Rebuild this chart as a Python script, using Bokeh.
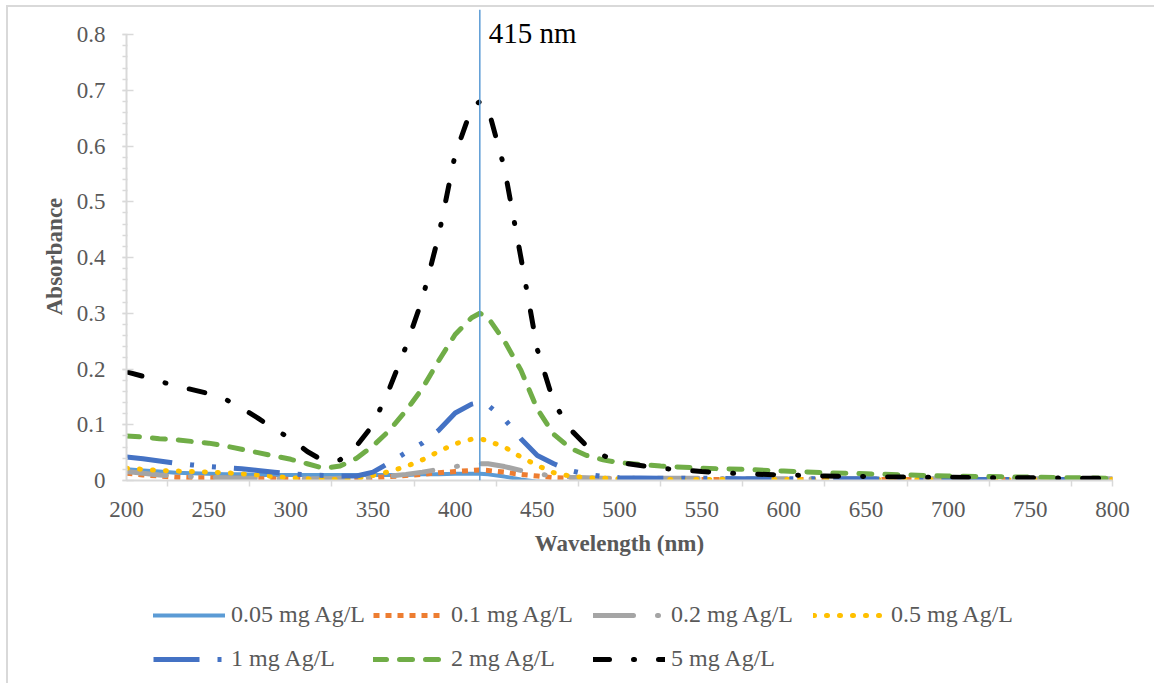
from bokeh.plotting import figure
from bokeh.layouts import column
from bokeh.models import FixedTicker, Span, Label, Legend, LegendItem, Range1d
from bokeh.embed import file_html
from bokeh.resources import INLINE

# ---------------- data ----------------
wavelength = [200, 210, 220, 230, 240, 250, 260, 270, 280, 290, 300, 310, 320, 330, 340,
              350, 360, 370, 380, 390, 400, 410, 415, 420, 430, 440, 450, 460, 470, 480,
              490, 500, 525, 550, 575, 600, 625, 650, 675, 700, 725, 750, 775, 800]

abs_005 = [0.020, 0.018, 0.016, 0.014, 0.013, 0.012, 0.011, 0.011, 0.010, 0.010, 0.010, 0.010,
           0.010, 0.010, 0.010, 0.010, 0.010, 0.010, 0.011, 0.011, 0.012, 0.012, 0.012, 0.011,
           0.007, 0.002, -0.002, -0.003, -0.003, -0.003, -0.003, -0.003, -0.003, -0.003, -0.003,
           -0.003, -0.003, -0.003, -0.003, -0.003, -0.003, -0.003, -0.003, -0.003]

abs_01 = [0.013, 0.010, 0.008, 0.006, 0.005, 0.005, 0.004, 0.004, 0.003, 0.003, 0.002, 0.002,
          0.002, 0.002, 0.003, 0.005, 0.007, 0.009, 0.011, 0.014, 0.016, 0.018, 0.019, 0.018,
          0.015, 0.011, 0.008, 0.005, 0.004, 0.003, 0.003, 0.002, 0.002, 0.002, 0.002, 0.002,
          0.002, 0.002, 0.002, 0.002, 0.002, 0.002, 0.002, 0.002]

abs_02 = [0.016, 0.013, 0.010, 0.008, 0.007, 0.006, 0.005, 0.004, 0.004, 0.003, 0.003, 0.003,
          0.003, 0.004, 0.005, 0.006, 0.008, 0.011, 0.015, 0.020, 0.025, 0.029, 0.030, 0.030,
          0.025, 0.018, 0.012, 0.008, 0.006, 0.005, 0.004, 0.004, 0.004, 0.004, 0.003, 0.003,
          0.003, 0.003, 0.003, 0.003, 0.003, 0.003, 0.003, 0.003]

abs_05 = [0.022, 0.020, 0.018, 0.017, 0.016, 0.015, 0.014, 0.012, 0.010, 0.007, 0.005, 0.003,
          0.002, 0.002, 0.004, 0.009, 0.016, 0.025, 0.037, 0.052, 0.066, 0.074, 0.075, 0.071,
          0.060, 0.042, 0.027, 0.014, 0.008, 0.005, 0.004, 0.003, 0.002, 0.002, 0.002, 0.002,
          0.002, 0.002, 0.002, 0.002, 0.002, 0.002, 0.002, 0.002]

abs_1 = [0.042, 0.039, 0.035, 0.031, 0.028, 0.025, 0.023, 0.021, 0.018, 0.015, 0.012, 0.010,
         0.009, 0.008, 0.008, 0.015, 0.032, 0.050, 0.067, 0.090, 0.121, 0.137, 0.140, 0.135,
         0.110, 0.075, 0.045, 0.030, 0.018, 0.011, 0.007, 0.005, 0.004, 0.004, 0.003, 0.003,
         0.003, 0.003, 0.002, 0.002, 0.002, 0.002, 0.002, 0.002]

abs_2 = [0.080, 0.078, 0.075, 0.073, 0.070, 0.067, 0.062, 0.056, 0.050, 0.044, 0.038, 0.030,
         0.022, 0.026, 0.040, 0.062, 0.090, 0.125, 0.165, 0.215, 0.262, 0.292, 0.300, 0.292,
         0.250, 0.198, 0.128, 0.083, 0.058, 0.045, 0.037, 0.032, 0.026, 0.022, 0.020, 0.017,
         0.014, 0.012, 0.010, 0.008, 0.007, 0.006, 0.005, 0.004]

abs_5 = [0.195, 0.187, 0.178, 0.170, 0.163, 0.156, 0.146, 0.130, 0.112, 0.092, 0.075, 0.052,
         0.035, 0.037, 0.062, 0.100, 0.165, 0.240, 0.325, 0.440, 0.585, 0.668, 0.680, 0.668,
         0.560, 0.400, 0.235, 0.140, 0.092, 0.062, 0.045, 0.032, 0.022, 0.016, 0.012, 0.010,
         0.008, 0.007, 0.006, 0.006, 0.005, 0.005, 0.004, 0.004]

series_labels = ["0.05 mg Ag/L", "0.1 mg Ag/L", "0.2 mg Ag/L", "0.5 mg Ag/L",
                 "1 mg Ag/L", "2 mg Ag/L", "5 mg Ag/L"]
series_values = [abs_005, abs_01, abs_02, abs_05, abs_1, abs_2, abs_5]

x_ticks = [200, 250, 300, 350, 400, 450, 500, 550, 600, 650, 700, 750, 800]
y_ticks = [0, 0.1, 0.2, 0.3, 0.4, 0.5, 0.6, 0.7, 0.8]
y_tick_labels = ["0", "0.1", "0.2", "0.3", "0.4", "0.5", "0.6", "0.7", "0.8"]

peak_wavelength = 415
peak_label = "415 nm"
peak_label_y = 0.803

# ---------------- styles ----------------
colors = ["#5b9bd5", "#ed7d31", "#a5a5a5", "#ffc000", "#4472c4", "#70ad47", "#000000"]
widths = [4, 5, 5, 5, 5, 5, 5]
dashes = ["solid", "6 6", "40 24 1 24", "1 12", "46 18 4 18 4 18", "13 13", "16 24 1 24"]
caps = ["round", "butt", "round", "round", "butt", "round", "round"]

SERIF = "Liberation Serif"
GRAY_TEXT = "#595959"
AXIS_GRAY = "#d9d9d9"
W = 1154
MAIN_H = 585
LEG_H = 683 - MAIN_H
FRAME_LEFT = 126


def draw_series(fig):
    rs = []
    for vals, c, w, d, cap in zip(series_values, colors, widths, dashes, caps):
        rs.append(fig.line(wavelength, vals, line_color=c, line_width=w, line_dash=d,
                           line_cap=cap, line_join="round"))
    return rs


# ---------------- main chart ----------------
p = figure(width=W, height=MAIN_H, output_backend="svg", toolbar_location=None,
           x_range=Range1d(200, 800), y_range=Range1d(0, 0.845),
           min_border_left=FRAME_LEFT, min_border_right=W - 1112, min_border_top=9,
           min_border_bottom=MAIN_H - 480)
p.styles = {"box-shadow": "inset 6px 5px 0 0 #ffffff, inset 8px 7px 0 0 #d9d9d9"}
p.outline_line_color = None
p.grid.visible = False
p.background_fill_color = "white"
p.border_fill_color = None

renderers = draw_series(p)

xa = p.xaxis[0]
xa.ticker = FixedTicker(ticks=x_ticks, minor_ticks=[225 + 50 * i for i in range(12)] + [800])
xa.axis_line_color = AXIS_GRAY
xa.axis_line_width = 2
xa.major_tick_in = 0
xa.major_tick_out = 0
xa.minor_tick_line_color = AXIS_GRAY
xa.minor_tick_line_width = 1.5
xa.minor_tick_in = 0
xa.minor_tick_out = 6
xa.major_label_text_font = SERIF
xa.major_label_text_font_size = "23px"
xa.major_label_text_color = GRAY_TEXT
xa.major_label_standoff = 15
xa.axis_label = "Wavelength (nm)"
xa.axis_label_text_font = SERIF
xa.axis_label_text_font_size = "23px"
xa.axis_label_text_font_style = "bold"
xa.axis_label_text_color = GRAY_TEXT
xa.axis_label_standoff = 11

ya = p.yaxis[0]
ya.ticker = FixedTicker(ticks=y_ticks, minor_ticks=[round(0.02 * i, 2) for i in range(41)])
ya.bounds = (0, 0.8)
ya.major_label_overrides = dict(zip(y_ticks, y_tick_labels))
ya.axis_line_color = AXIS_GRAY
ya.axis_line_width = 2
ya.major_tick_line_color = AXIS_GRAY
ya.major_tick_line_width = 1.5
ya.major_tick_in = 7
ya.major_tick_out = 4
ya.minor_tick_line_color = AXIS_GRAY
ya.minor_tick_line_width = 1.5
ya.minor_tick_in = 1
ya.minor_tick_out = 4
ya.major_label_text_font = SERIF
ya.major_label_text_font_size = "23px"
ya.major_label_text_color = GRAY_TEXT
ya.major_label_standoff = 17
# trailing no-break spaces centre the title on the 0-0.8 axis rather than the frame
ya.axis_label = "Absorbance\u00a0\u00a0\u00a0\u00a0"
ya.axis_label_text_font = SERIF
ya.axis_label_text_font_size = "23px"
ya.axis_label_text_font_style = "bold"
ya.axis_label_text_color = GRAY_TEXT
ya.axis_label_standoff = 7

p.add_layout(Span(location=peak_wavelength, dimension="height", line_color="#5b9bd5",
                  line_width=1.5))
p.add_layout(Label(x=peak_wavelength, y=peak_label_y, x_offset=9, text=peak_label,
                   text_font=SERIF, text_font_size="29px", text_color="black",
                   text_baseline="alphabetic"))

# ---------------- legend strip (same series, ranges keep the lines out of view) ----------------
lp = figure(width=W, height=LEG_H, output_backend="svg", toolbar_location=None,
            x_range=Range1d(0, 1), y_range=Range1d(10, 11),
            x_axis_type=None, y_axis_type=None, min_border=0)
lp.styles = {"box-shadow": "inset 6px 0 0 0 #ffffff, inset 8px 0 0 0 #d9d9d9"}
lp.outline_line_color = None
lp.grid.visible = False
lp.background_fill_color = None
lp.border_fill_color = None
leg_renderers = draw_series(lp)


def make_legend(idx, loc):
    items = [LegendItem(label=series_labels[i], renderers=[leg_renderers[i]]) for i in idx]
    return Legend(items=items, orientation="horizontal", location=loc,
                  label_text_font=SERIF, label_text_font_size="24px",
                  label_text_color=GRAY_TEXT, glyph_width=72, glyph_height=24,
                  label_height=24, label_width=138, label_standoff=6, spacing=4,
                  padding=0, margin=0, border_line_color=None,
                  background_fill_alpha=0)


lp.add_layout(make_legend([0, 1, 2, 3], (153 - FRAME_LEFT, 55)))
lp.add_layout(make_legend([4, 5, 6], (153 - FRAME_LEFT, 11)))

layout = column(p, lp, spacing=0)
open("out.html", "w").write(file_html(layout, INLINE))
